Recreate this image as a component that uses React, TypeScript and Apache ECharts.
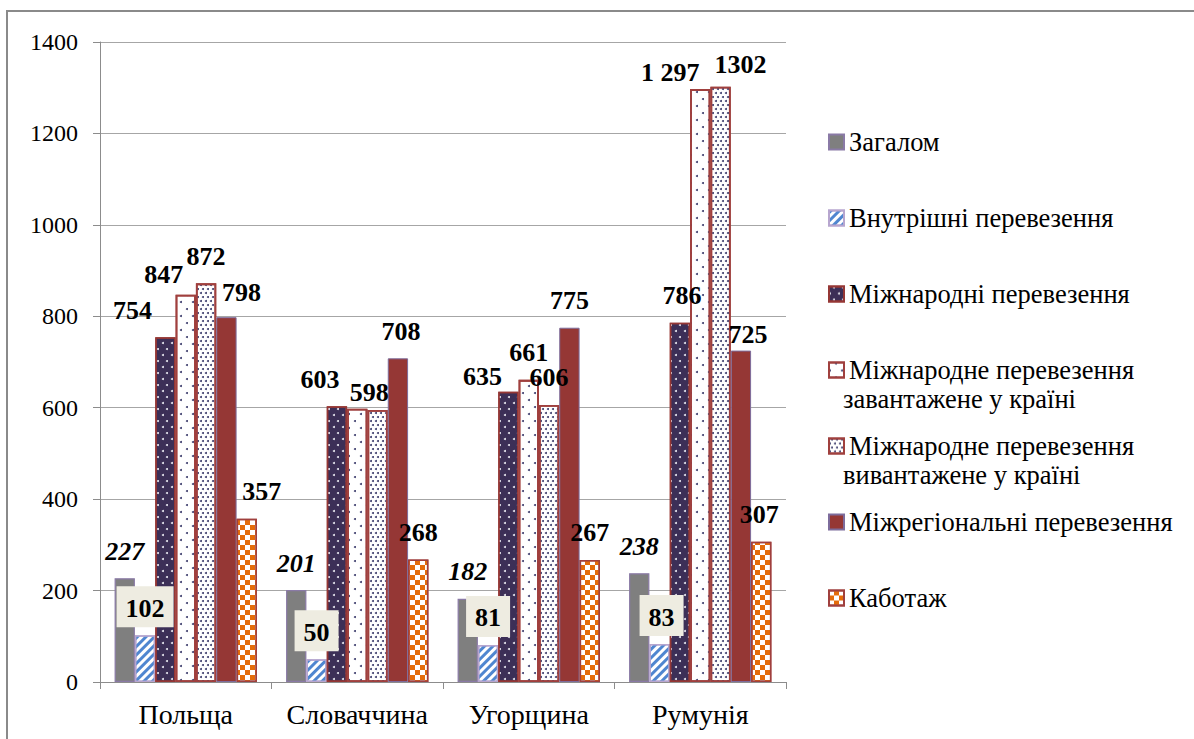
import React, { useEffect, useRef } from "react";
import * as echarts from "echarts";

const categories = ["Польща", "Словаччина", "Угорщина", "Румунія"];
const seriesNames = [
  "Загалом",
  "Внутрішні перевезення",
  "Міжнародні перевезення",
  "Міжнародне перевезення завантажене у країні",
  "Міжнародне перевезення вивантажене у країні",
  "Міжрегіональні перевезення",
  "Каботаж",
];
const zagalom = [227, 201, 182, 238];
const vnutrishni = [102, 50, 81, 83];
const mizhnarodni = [754, 603, 635, 786];
const zavantazhene = [847, 598, 661, 1297];
const vyvantazhene = [872, 595, 606, 1302];
const mizhregionalni = [798, 708, 775, 725];
const kabotazh = [357, 268, 267, 307];
const yMin = 0;
const yMax = 1400;
const yStep = 200;

// label text overrides (as printed on the chart) and hidden labels
const labelTextOverride: Record<string, string> = { "3-3": "1 297" };
const hiddenLabels: string[] = ["4-1"];

// label position tweaks (pixels), per series then per category
const labelOffsets: number[][][] = [
  [[0, 0], [0, 0], [0, 0], [0, 0]],
  [[0, 0], [0, 0], [0, 0], [2, 0]],
  [[-33, 0], [-17, 0], [-26, 12], [2, 0]],
  [[-22, 7], [12, 11], [0, 0], [-30, 10]],
  [[0, 0], [0, 0], [0, 0], [20, 5]],
  [[15, 2], [3, 0], [0, 0], [7, 11]],
  [[15, 0], [0, 0], [0, 0], [-2, 0]],
];

const SERIF = "Liberation Serif";

const styles: any[] = [
  { color: "#7f7f7f", borderColor: "#8a7aa6", borderWidth: 1.2 },
  {
    color: "#ffffff",
    borderColor: "#b7a6cf",
    borderWidth: 1.5,
    decal: {
      symbol: "rect",
      symbolSize: 1,
      color: "#4f86d0",
      dashArrayX: [1, 0],
      dashArrayY: [2.2, 3],
      rotation: -Math.PI / 4,
    },
  },
  {
    color: "#3c2f57",
    borderColor: "#953735",
    borderWidth: 1.5,
    decal: {
      symbol: "circle",
      symbolSize: 1,
      color: "#e8e8f0",
      dashArrayX: [[1.6, 6.4], [0, 4, 1.6, 2.4]],
      dashArrayY: [1.6, 3.4],
      rotation: 0,
    },
  },
  {
    color: "#ffffff",
    borderColor: "#a0403e",
    borderWidth: 1.8,
    decal: {
      symbol: "circle",
      symbolSize: 1,
      color: "#3c3c6c",
      dashArrayX: [[1.5, 9.5], [0, 5.5, 1.5, 4]],
      dashArrayY: [1.5, 5],
      rotation: 0,
    },
  },
  {
    color: "#ffffff",
    borderColor: "#a0403e",
    borderWidth: 1.8,
    decal: {
      symbol: "circle",
      symbolSize: 1,
      color: "#3c3c6c",
      dashArrayX: [[1.3, 2.7], [0, 2, 1.3, 0.7]],
      dashArrayY: [1.3, 1.5],
      rotation: 0,
    },
  },
  { color: "#953735", borderColor: "#7d6c9c", borderWidth: 1 },
  {
    color: "#ffffff",
    borderColor: "#a0403e",
    borderWidth: 1.5,
    decal: {
      symbol: "rect",
      symbolSize: 1,
      color: "#e46c0a",
      dashArrayX: [[5, 5], [0, 5, 5, 0]],
      dashArrayY: [5, 0],
      rotation: 0,
    },
  },
];

const values = [zagalom, vnutrishni, mizhnarodni, zavantazhene, vyvantazhene, mizhregionalni, kabotazh];

export default function App() {
  const ref = useRef<HTMLDivElement>(null);
  useEffect(() => {
    if (!ref.current) return;
    const chart = echarts.init(ref.current, null, { renderer: "svg" });

    const series = values.map((arr, si) => {
      const baseLabel: any = {
        show: true,
        position: "top",
        distance: 14,
        fontFamily: SERIF,
        fontWeight: "bold",
        fontSize: 26,
        color: "#000",
      };
      if (si === 0) baseLabel.fontStyle = "italic";
      if (si === 1) {
        baseLabel.backgroundColor = "#eeece1";
        baseLabel.padding = [9, 9, 6, 9];
        baseLabel.distance = 8;
      }
      return {
        name: seriesNames[si],
        type: "bar",
        barGap: "0%",
        barCategoryGap: "17%",
        itemStyle: styles[si],
        label: baseLabel,
        data: arr.map((v, ci) => {
          const key = `${si}-${ci}`;
          const lbl: any = { offset: labelOffsets[si][ci] };
          if (hiddenLabels.includes(key)) lbl.show = false;
          if (labelTextOverride[key]) lbl.formatter = labelTextOverride[key];
          return { value: v, label: lbl };
        }),
      };
    });

    chart.setOption({
      animation: false,
      backgroundColor: "#ffffff",
      grid: { left: 100, top: 42, right: 408, bottom: 57 },
      legend: {
        orient: "vertical",
        left: 823,
        top: 123.5,
        itemWidth: 15,
        itemHeight: 15,
        itemGap: 49,
        icon: "rect",
        selectedMode: false,
        data: seriesNames,
        formatter: (name: string) =>
          name.startsWith("Міжнародне перевезення ") ? "Міжнародне перевезення" : name,
        textStyle: { fontFamily: SERIF, fontSize: 26.5, lineHeight: 26, color: "#000" },
      },
      graphic: [
        {
          type: "rect",
          silent: true,
          shape: { x: 7, y: 11, width: 1200, height: 760 },
          style: { fill: "none", stroke: "#8a8a8a", lineWidth: 2 },
        },
        {
          type: "text",
          left: 843,
          top: 385,
          style: { text: "завантажене у країні", fontFamily: SERIF, fontSize: 26.5, fill: "#000" },
        },
        {
          type: "text",
          left: 843,
          top: 461,
          style: { text: "вивантажене у країні", fontFamily: SERIF, fontSize: 26.5, fill: "#000" },
        },
      ],
      xAxis: {
        type: "category",
        data: categories,
        axisLine: { lineStyle: { color: "#8c8c8c", width: 1 } },
        axisTick: { show: true, length: 7, lineStyle: { color: "#8c8c8c" } },
        axisLabel: { fontFamily: SERIF, fontSize: 28, color: "#000", margin: 18, interval: 0 },
      },
      yAxis: {
        type: "value",
        min: yMin,
        max: yMax,
        interval: yStep,
        axisLine: { show: true, lineStyle: { color: "#8c8c8c", width: 1 } },
        axisTick: { show: true, length: 7, lineStyle: { color: "#8c8c8c" } },
        splitLine: { lineStyle: { color: "#a6a6a6", width: 1 } },
        axisLabel: {
          fontFamily: SERIF,
          fontSize: 24,
          color: "#000",
          margin: 22,
          formatter: (v: number) => String(v),
        },
      },
      series,
    });
    return () => chart.dispose();
  }, []);
  return (
    <div
      ref={ref}
      style={{ position: "absolute", left: 0, top: 0, width: 1194, height: 739 }}
    />
  );
}
